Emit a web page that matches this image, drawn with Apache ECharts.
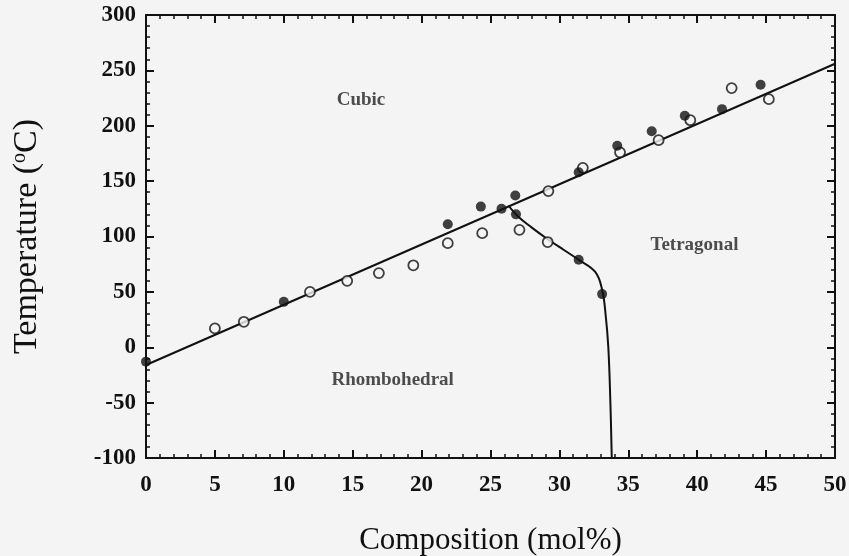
<!DOCTYPE html>
<html>
<head>
<meta charset="utf-8">
<title>Phase diagram</title>
<script src="https://cdn.jsdelivr.net/npm/echarts@6/dist/echarts.min.js"></script>
<style>
  html, body { margin: 0; padding: 0; background: #f4f4f4; }
  #chart { width: 849px; height: 556px; }
</style>
</head>
<body>
<div id="chart"></div>
<script>
// Axis ranges and tick steps
const xTicks = [0, 5, 10, 15, 20, 25, 30, 35, 40, 45, 50];
const yTicks = [-100, -50, 0, 50, 100, 150, 200, 250, 300];

// Filled symbols (composition mol%, temperature °C)
const filledX = [0, 10, 21.9, 24.3, 25.8, 26.8, 26.85, 31.4, 33.1, 31.4, 34.2, 36.7, 39.1, 41.8, 44.6];
const filledY = [-13, 41, 111, 127, 125, 137, 120, 79, 48, 158, 182, 195, 209, 215, 237];

// Open symbols
const openX = [5.0, 7.1, 11.9, 14.6, 16.9, 19.4, 21.9, 24.4, 27.1, 29.15, 29.2, 31.7, 34.4, 37.2, 39.5, 42.5, 45.2];
const openY = [17, 23, 50, 60, 67, 74, 94, 103, 106, 95, 141, 162, 176, 187, 205, 234, 224];

// Cubic boundary (straight fit)
const fitX = [0, 50];
const fitY = [-16, 256];

// Rhombohedral / tetragonal boundary
const curveX = [26.3, 27.0, 28.0, 29.1, 30.3, 31.4, 32.6, 33.1, 33.35, 33.55, 33.7, 33.8];
const curveY = [128, 118, 108, 98, 88, 79, 68, 52, 30, 0, -50, -100];

// Phase region names
const regionNames = ['Cubic', 'Tetragonal', 'Rhombohedral'];
const regionX = [15.6, 39.8, 17.9];
const regionY = [223, 92, -30];

const zip = (xs, ys) => xs.map((x, i) => [x, ys[i]]);

const serif = '"Liberation Serif", "DejaVu Serif", serif';
const ink = '#111';

const tickCommon = {
  axisLine: { show: true, onZero: false, lineStyle: { color: ink, width: 2 } },
  axisTick: { show: true, inside: true, length: 8, lineStyle: { color: ink, width: 2 } },
  minorTick: { show: true, splitNumber: 5, length: 4, lineStyle: { color: ink, width: 1.5 } },
  splitLine: { show: false },
  minorSplitLine: { show: false }
};

const chart = echarts.init(document.getElementById('chart'));
chart.setOption({
  backgroundColor: '#f4f4f4',
  animation: false,
  grid: { left: 146, right: 14, top: 15, bottom: 98, outerBoundsMode: 'none' },
  xAxis: [
    Object.assign({
      type: 'value', position: 'bottom',
      min: xTicks[0], max: xTicks[xTicks.length - 1], interval: xTicks[1] - xTicks[0],
      name: 'Composition (mol%)', nameLocation: 'middle', nameGap: 67,
      nameTextStyle: { fontFamily: serif, fontSize: 31, color: ink },
      axisLabel: { fontFamily: serif, fontSize: 23, fontWeight: 'bold', color: ink, margin: 16 }
    }, tickCommon),
    Object.assign({
      type: 'value', position: 'top',
      min: xTicks[0], max: xTicks[xTicks.length - 1], interval: xTicks[1] - xTicks[0],
      axisLabel: { show: false }
    }, tickCommon)
  ],
  yAxis: [
    Object.assign({
      type: 'value', position: 'left',
      min: yTicks[0], max: yTicks[yTicks.length - 1], interval: yTicks[1] - yTicks[0],
      name: '{t|Temperature (}{s|o}{t|C)}', nameLocation: 'middle', nameGap: 102, nameRotate: 90,
      nameTextStyle: {
        rich: {
          t: { fontFamily: serif, fontSize: 34, color: ink },
          s: { fontFamily: serif, fontSize: 20, color: ink, verticalAlign: 'top', padding: [0, 0, 13, 0] }
        }
      },
      axisLabel: { fontFamily: serif, fontSize: 23, fontWeight: 'bold', color: ink, margin: 10 }
    }, tickCommon),
    Object.assign({
      type: 'value', position: 'right',
      min: yTicks[0], max: yTicks[yTicks.length - 1], interval: yTicks[1] - yTicks[0],
      axisLabel: { show: false }
    }, tickCommon)
  ],
  series: [
    {
      type: 'line', data: zip(fitX, fitY), showSymbol: false, symbol: 'none',
      lineStyle: { color: ink, width: 2 }, z: 2
    },
    {
      type: 'line', data: zip(curveX, curveY), showSymbol: false, symbol: 'none', smooth: 0.4,
      lineStyle: { color: ink, width: 2 }, z: 2
    },
    {
      type: 'scatter', data: zip(openX, openY), symbol: 'circle', symbolSize: 10,
      itemStyle: { color: '#f4f4f4', borderColor: ink, borderWidth: 1.8 }, z: 3
    },
    {
      type: 'scatter', data: zip(filledX, filledY), symbol: 'circle', symbolSize: 10,
      itemStyle: { color: ink }, z: 4
    },
    {
      type: 'scatter', symbolSize: 0, silent: true,
      data: regionNames.map((n, i) => ({ name: n, value: [regionX[i], regionY[i]] })),
      label: {
        show: true, position: 'inside', formatter: p => p.name,
        fontFamily: serif, fontSize: 19, fontWeight: 'bold', color: '#222'
      },
      z: 5
    }
  ]
});
</script>
</body>
</html>
